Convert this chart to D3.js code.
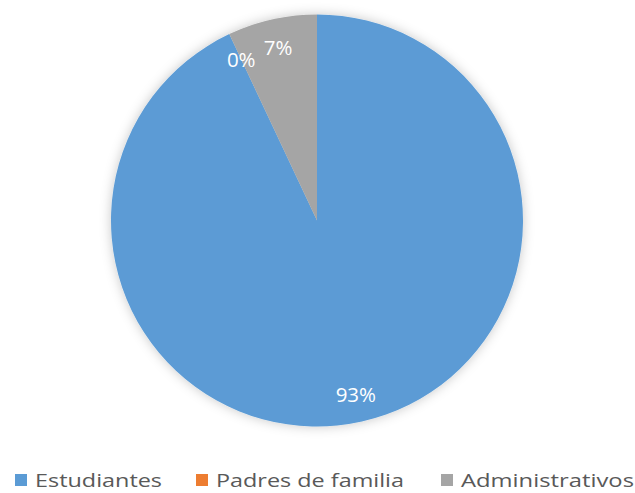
<!DOCTYPE html>
<html><head><meta charset="utf-8">
<script src="https://cdn.jsdelivr.net/npm/d3@7"></script>
<style>body{margin:0;background:#fff;}svg{display:block;}</style>
</head><body>
<svg id="chart" width="635" height="493"></svg>
<script>
const categories = ["Estudiantes", "Padres de familia", "Administrativos"];
const values = [93, 0, 7];
const colors = ["#5B9BD5", "#ED7D31", "#A5A5A5"];

const svg = d3.select("#chart");
const cx = 317, cy = 220.5, R = 206;

const defs = svg.append("defs");
const f = defs.append("filter").attr("id","sh").attr("x","-20%").attr("y","-20%").attr("width","140%").attr("height","140%");
f.append("feDropShadow").attr("dx",0).attr("dy",0).attr("stdDeviation",6).attr("flood-color","#000").attr("flood-opacity",0.22);

const data = categories.map((c,i)=>({cat:c, value:values[i], color:colors[i]}));
const pie = d3.pie().value(d=>d.value).sort(null);
const arcs = pie(data);
const arc = d3.arc().innerRadius(0).outerRadius(R);
const labelArc = d3.arc().innerRadius(178).outerRadius(178);
const total = d3.sum(values);

const g = svg.append("g").attr("transform",`translate(${cx},${cy})`);
g.append("g").attr("filter","url(#sh)").selectAll("path").data(arcs).join("path")
  .attr("d",arc).attr("fill",d=>d.data.color);

g.selectAll("text.lbl").data(arcs).join("text").attr("class","lbl")
  .attr("transform",d=>`translate(${labelArc.centroid(d)})`)
  .attr("text-anchor","middle").attr("dominant-baseline","central")
  .attr("fill","#fff").attr("font-family","'Open Sans', sans-serif").attr("font-size",20.5)
  .text(d=>Math.round(d.data.value/total*100)+"%");

// legend
const legX = [15, 196, 441];
const legW = [127, 188, 173];
const lg = svg.append("g").attr("font-family","'Open Sans', sans-serif").attr("font-size",18).attr("fill","#595959");
const items = lg.selectAll("g").data(data).join("g").attr("transform",(d,i)=>`translate(${legX[i]},474)`);
items.append("rect").attr("width",12).attr("height",12).attr("fill",d=>d.color);
items.append("text").attr("x",20).attr("y",6).attr("dominant-baseline","central")
  .attr("textLength",(d,i)=>legW[i]).attr("lengthAdjust","spacingAndGlyphs").text(d=>d.cat);
</script>
</body></html>
